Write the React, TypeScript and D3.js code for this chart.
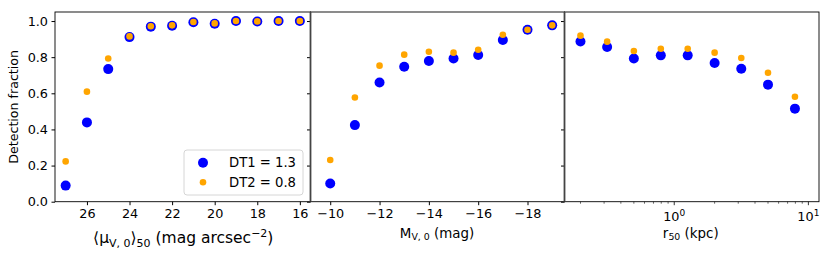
import * as d3 from "d3";
import { useEffect, useRef } from "react";

// panel 1: surface brightness
const muX = [27, 26, 25, 24, 23, 22, 21, 20, 19, 18, 17, 16];
const muDT1 = [0.089, 0.439, 0.734, 0.911, 0.969, 0.974, 0.993, 0.985, 1.0, 0.997, 1.0, 1.0];
const muDT2 = [0.223, 0.609, 0.793, 0.915, 0.971, 0.976, 0.995, 0.987, 1.0, 0.998, 1.0, 1.0];

// panel 2: absolute magnitude
const magX = [-10, -11, -12, -13, -14, -15, -16, -17, -18, -19];
const magDT1 = [0.101, 0.424, 0.66, 0.747, 0.779, 0.793, 0.812, 0.895, 0.952, 0.976];
const magDT2 = [0.231, 0.577, 0.753, 0.814, 0.83, 0.825, 0.841, 0.924, 0.952, 0.976];

// panel 3: half-light radius (kpc)
const rX = [0.2, 0.316, 0.5, 0.794, 1.26, 2.0, 3.16, 5.0, 7.94];
const rDT1 = [0.887, 0.856, 0.793, 0.81, 0.81, 0.768, 0.736, 0.648, 0.515];
const rDT2 = [0.919, 0.886, 0.834, 0.847, 0.847, 0.825, 0.795, 0.714, 0.581];

const yTicks = [0, 0.2, 0.4, 0.6, 0.8, 1.0];
const muTicks = [26, 24, 22, 20, 18, 16];
const magTicks = [-10, -12, -14, -16, -18];
const rMajor = [1, 10];
const rMinor = [0.2, 0.3, 0.4, 0.5, 0.6, 0.7, 0.8, 0.9, 2, 3, 4, 5, 6, 7, 8, 9];
const legendLabels = ["DT1 = 1.3", "DT2 = 0.8"];

const BLUE = "#0000ff";
const ORANGE = "#ffa500";
const FONT = "DejaVu Sans";
const TICK_FS = 12.8;

export default function App() {
  const ref = useRef<SVGSVGElement>(null);
  const width = 831;
  const height = 255;
  const top = 12;
  const bottom = 201.7;
  const edges = [55, 310.5, 564.5, 819];

  useEffect(() => {
    draw();
  });

  function draw() {
    const svg = d3.select(ref.current);
    svg.selectAll("*").remove();
    svg.attr("font-family", FONT);

    const y = d3.scaleLinear().domain([0, 1.05]).range([bottom, top]);

    const x1 = d3.scaleLinear().domain([27.5, 15.5]).range([edges[0], edges[1]]);
    const x2 = d3.scaleLinear().domain([-9.2, -19.5]).range([edges[1], edges[2]]);
    const x3 = d3.scaleLog().domain([0.152, 12.0]).range([edges[2], edges[3]]);

    const panels: { x: any; xs: number[]; a: number[]; b: number[]; i: number }[] = [
      { x: x1, xs: muX, a: muDT1, b: muDT2, i: 0 },
      { x: x2, xs: magX, a: magDT1, b: magDT2, i: 1 },
      { x: x3, xs: rX, a: rDT1, b: rDT2, i: 2 },
    ];

    panels.forEach((p) => {
      const g = svg.append("g");
      // y ticks
      const yAxis = g
        .append("g")
        .attr("transform", `translate(${edges[p.i]},0)`)
        .call(
          d3
            .axisLeft(y)
            .tickValues(yTicks)
            .tickSize(3.5)
            .tickSizeOuter(0)
            .tickPadding(3.5)
            .tickFormat(p.i === 0 ? d3.format(".1f") : () => "")
        );
      yAxis.select(".domain").remove();
      yAxis.selectAll("text").attr("font-size", TICK_FS).attr("font-family", FONT).attr("fill", "#000");

      // data: DT1 big blue, DT2 small orange on top
      g.append("g")
        .selectAll("circle")
        .data(p.xs.map((v, k) => [v, p.a[k]]))
        .enter()
        .append("circle")
        .attr("cx", (d) => p.x(d[0]))
        .attr("cy", (d) => y(d[1]))
        .attr("r", 5)
        .attr("fill", BLUE);
      g.append("g")
        .selectAll("circle")
        .data(p.xs.map((v, k) => [v, p.b[k]]))
        .enter()
        .append("circle")
        .attr("cx", (d) => p.x(d[0]))
        .attr("cy", (d) => y(d[1]))
        .attr("r", 3.3)
        .attr("fill", ORANGE);
    });

    // x axes
    const ax1 = svg
      .append("g")
      .attr("transform", `translate(0,${bottom})`)
      .call(d3.axisBottom(x1).tickValues(muTicks).tickSize(3.5).tickSizeOuter(0).tickPadding(3.5).tickFormat(d3.format("d")));
    const ax2 = svg
      .append("g")
      .attr("transform", `translate(0,${bottom})`)
      .call(d3.axisBottom(x2).tickValues(magTicks).tickSize(3.5).tickSizeOuter(0).tickPadding(3.5).tickFormat(d3.format("d")));
    [ax1, ax2].forEach((a) => {
      a.select(".domain").remove();
      a.selectAll("text").attr("font-size", TICK_FS).attr("font-family", FONT).attr("fill", "#000");
    });

    const ax3 = svg.append("g").attr("transform", `translate(0,${bottom})`);
    ax3
      .selectAll("line.minor")
      .data(rMinor)
      .enter()
      .append("line")
      .attr("x1", (d) => x3(d))
      .attr("x2", (d) => x3(d))
      .attr("y1", 0)
      .attr("y2", 2)
      .attr("stroke", "#000")
      .attr("stroke-width", 0.6);
    ax3
      .selectAll("line.major")
      .data(rMajor)
      .enter()
      .append("line")
      .attr("x1", (d) => x3(d))
      .attr("x2", (d) => x3(d))
      .attr("y1", 0)
      .attr("y2", 3.5)
      .attr("stroke", "#000")
      .attr("stroke-width", 0.8);
    const lab = ax3
      .selectAll("text.major")
      .data(rMajor)
      .enter()
      .append("text")
      .attr("x", (d) => x3(d))
      .attr("y", 19.5)
      .attr("text-anchor", "middle")
      .attr("font-size", TICK_FS);
    lab.append("tspan").text("10");
    lab
      .append("tspan")
      .attr("font-size", 9)
      .attr("dy", -5.5)
      .text((d) => String(Math.round(Math.log10(d))));

    // spines
    for (let i = 0; i < 3; i++) {
      svg
        .append("rect")
        .attr("x", edges[i])
        .attr("y", top)
        .attr("width", edges[i + 1] - edges[i])
        .attr("height", bottom - top)
        .attr("fill", "none")
        .attr("stroke", "#000")
        .attr("stroke-width", 0.9);
    }
    [edges[1], edges[2]].forEach((e) => {
      svg
        .append("line")
        .attr("x1", e)
        .attr("x2", e)
        .attr("y1", top)
        .attr("y2", bottom)
        .attr("stroke", "#444")
        .attr("stroke-width", 1.8);
    });

    // y label
    svg
      .append("text")
      .attr("transform", `translate(17.5,${(top + bottom) / 2}) rotate(-90)`)
      .attr("text-anchor", "middle")
      .attr("font-size", 12.6)
      .text("Detection fraction");

    // x labels
    const l1 = svg
      .append("text")
      .attr("x", (edges[0] + edges[1]) / 2 + 0.5)
      .attr("y", 243)
      .attr("text-anchor", "middle")
      .attr("font-size", 15.5);
    l1.append("tspan").text("⟨μ");
    l1.append("tspan").attr("font-size", 11).attr("dy", 3.5).text("V, 0");
    l1.append("tspan").attr("dy", -3.5).text("⟩");
    l1.append("tspan").attr("font-size", 11).attr("dy", 3.5).text("50");
    l1.append("tspan").attr("dy", -3.5).text(" (mag arcsec");
    l1.append("tspan").attr("font-size", 11).attr("dy", -6.5).text("−2");
    l1.append("tspan").attr("dy", 6.5).text(")");

    const l2 = svg
      .append("text")
      .attr("x", (edges[1] + edges[2]) / 2 - 0.5)
      .attr("y", 237.5)
      .attr("text-anchor", "middle")
      .attr("font-size", 13.4);
    l2.append("tspan").text("M");
    l2.append("tspan").attr("font-size", 9.4).attr("dy", 2.8).text("V, 0");
    l2.append("tspan").attr("dy", -2.8).text(" (mag)");

    const l3 = svg
      .append("text")
      .attr("x", (edges[2] + edges[3]) / 2 - 1)
      .attr("y", 237.5)
      .attr("text-anchor", "middle")
      .attr("font-size", 13.4);
    l3.append("tspan").text("r");
    l3.append("tspan").attr("font-size", 9.4).attr("dy", 2.8).text("50");
    l3.append("tspan").attr("dy", -2.8).text(" (kpc)");

    // legend
    const lg = svg.append("g").attr("transform", "translate(184,150)");
    lg.append("rect")
      .attr("width", 119)
      .attr("height", 45)
      .attr("rx", 3)
      .attr("fill", "#fff")
      .attr("fill-opacity", 0.8)
      .attr("stroke", "#ccc")
      .attr("stroke-width", 0.8);
    legendLabels.forEach((t, k) => {
      lg.append("circle")
        .attr("cx", 19)
        .attr("cy", 12.7 + k * 19.6)
        .attr("r", k === 0 ? 5 : 3.3)
        .attr("fill", k === 0 ? BLUE : ORANGE);
      lg.append("text")
        .attr("x", 45)
        .attr("y", 17.4 + k * 19.6)
        .attr("font-size", 13.2)
        .text(t);
    });
  }

  return (
    <svg
      ref={ref}
      width={width}
      height={height}
      style={{ position: "absolute", left: 0, top: 0, background: "#fff" }}
    ></svg>
  );
}
